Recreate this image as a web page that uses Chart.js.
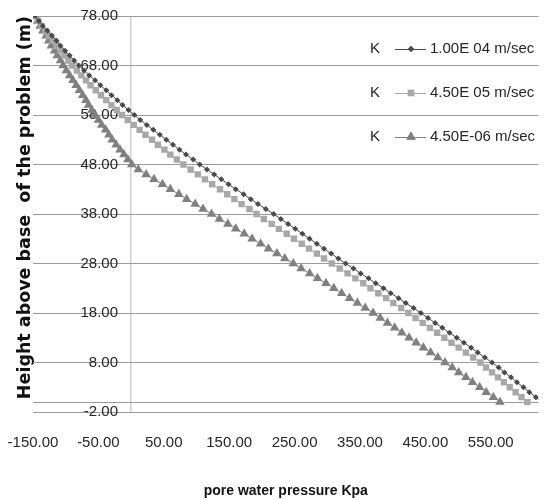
<!DOCTYPE html>
<html>
<head>
<meta charset="utf-8">
<script src="https://cdn.jsdelivr.net/npm/chart.js@4.4.1/dist/chart.umd.min.js"></script>
<style>
  html, body { margin: 0; padding: 0; background: #ffffff; }
  #wrap { width: 544px; height: 500px; }
</style>
</head>
<body>
<div id="wrap"><canvas id="c" width="544" height="500"></canvas></div>
<script>
// ---- data ----
const heights = [78,77,76,75,74,73,72,71,70,69,68,67,66,65,64,63,62,61,60,59,58,57,56,55,54,53,52,51,50,49,48,47,46,45,44,43,42,41,40,39,38,37,36,35,34,33,32,31,30,29,28,27,26,25,24,23,22,21,20,19,18,17,16,15,14,13,12,11,10,9,8,7,6,5,4,3,2,1,0];

const pressureK1 = [-147,-141,-135,-128,-121,-114,-108,-101,-94,-87,
  -80,-72,-64,-55,-47,-38,-30,-21,-13,-4,
  5,14,24,34,44,54,64,74,84,95,
  105,116,127,138,149,160,172,183,194,206,
  218,229,240,251,262,273,284,295,306,317,
  328,340,351,363,374,386,397,409,420,432,
  443,454,465,476,487,498,509,520,530,541,
  552,562,571,581,590,600,609,619,628];

const pressureK2 = [-147,-142,-137,-131,-126,-120,-114,-108,-102,-96,
  -90,-83,-76,-69,-62,-54,-46,-38,-30,-22,
  -14,-5,4,13,22,32,41,51,60,70,
  80,91,102,113,124,136,147,158,169,181,
  192,203,215,226,238,249,261,272,284,295,
  307,319,331,343,355,366,378,390,401,413,
  424,435,446,457,468,479,490,501,512,523,
  534,543,552,561,570,579,588,597,606];

const pressureK3 = [-147,-143,-139,-135,-130,-126,-122,-117,-113,-108,
  -104,-99,-94,-89,-84,-79,-74,-69,-65,-60,
  -55,-50,-45,-39,-34,-29,-23,-17,-11,-5,
  1,11,23,35,48,60,73,85,98,110,
  123,135,148,160,173,185,198,210,223,235,
  248,260,273,285,298,310,322,334,346,358,
  370,381,392,403,414,425,436,447,458,469,
  480,491,501,512,522,533,543,554,564];

const seriesLabels = ['1.00E 04 m/sec', '4.50E 05 m/sec', '4.50E-06 m/sec'];
const legendPrefix = 'K';
const xTickValues = [-150, -50, 0, 50, 150, 250, 350, 450, 550];
const yTickValues = [-2, 0, 8, 18, 28, 38, 48, 58, 68, 78];
const xTitle = 'pore water pressure Kpa';
const yTitle = 'Height above base  of the problem (m)';

// ---- styles ----
const FONT = "'Liberation Sans', Arial, sans-serif";
const colors = ['#4a4a4a', '#a8a8a8', '#808080'];
const styles = ['rectRot', 'rect', 'triangle'];
const radii = [3, 4.5, 5.5];
const textColor = '#262626';

function pts(p) { return p.map((v, i) => ({ x: v, y: heights[i] })); }
const seriesData = [pressureK1, pressureK2, pressureK3];

const datasets = seriesData.map((p, i) => ({
  label: seriesLabels[i],
  data: pts(p),
  showLine: true,
  borderColor: colors[i],
  backgroundColor: colors[i],
  borderWidth: 1,
  pointStyle: styles[i],
  pointRadius: radii[i],
  pointBorderWidth: 0,
  pointBackgroundColor: colors[i],
  yAxisID: 'y',
  order: i
}));

const legendPlugin = {
  id: 'excelLegend',
  afterDraw(chart) {
    const ctx = chart.ctx;
    const rows = [49, 93, 137];
    ctx.save();
    ctx.font = "15px " + FONT;
    ctx.textBaseline = 'middle';
    rows.forEach((y, i) => {
      ctx.fillStyle = textColor;
      ctx.textAlign = 'left';
      ctx.fillText(legendPrefix, 370, y);
      ctx.strokeStyle = colors[i];
      ctx.lineWidth = 1;
      ctx.beginPath();
      ctx.moveTo(395, y + 0.5);
      ctx.lineTo(426, y + 0.5);
      ctx.stroke();
      ctx.fillStyle = colors[i];
      Chart.helpers.drawPoint(ctx, { pointStyle: styles[i], radius: radii[i], borderWidth: 0, rotation: 0 }, 411, y);
      ctx.fill();
      ctx.fillStyle = textColor;
      ctx.fillText(seriesLabels[i], 430, y);
    });
    ctx.restore();
  }
};

new Chart(document.getElementById('c'), {
  type: 'scatter',
  data: { datasets },
  plugins: [legendPlugin],
  options: {
    responsive: false,
    animation: false,
    devicePixelRatio: 1,
    layout: { padding: { top: 16, left: 0, right: 0, bottom: 0 } },
    plugins: { legend: { display: false }, tooltip: { enabled: false } },
    scales: {
      x: {
        type: 'linear',
        position: 'bottom',
        min: -150,
        max: 623,
        afterBuildTicks: s => { s.ticks = xTickValues.map(v => ({ value: v })); },
        afterFit: s => { s.height = 88; s.paddingLeft = 0; s.paddingRight = 0; },
        ticks: {
          autoSkip: false, maxRotation: 0, padding: 22,
          color: textColor,
          font: { family: FONT, size: 15 },
          callback: v => (v === 0 ? '' : Number(v).toFixed(2))
        },
        grid: {
          drawTicks: false,
          lineWidth: 1.5,
          color: c => (c.tick && c.tick.value === 0 ? '#d0d0d0' : 'rgba(0,0,0,0)')
        },
        border: { display: false },
        title: {
          display: true, text: xTitle, color: '#111',
          font: { family: FONT, size: 14, weight: 'bold' },
          padding: { top: 0, bottom: 0 }
        }
      },
      yTitleAxis: {
        type: 'linear',
        position: 'left',
        min: -2, max: 78,
        afterFit: s => { s.width = 33; s.paddingTop = 0; s.paddingBottom = 0; },
        ticks: { display: false },
        grid: { display: false, drawTicks: false },
        border: { display: false },
        title: {
          display: true, text: yTitle, color: '#111',
          align: 'end',
          font: { family: "'DejaVu Sans', sans-serif", size: 17.5, weight: 'bold' },
          padding: { top: 14.5, bottom: 0 }
        }
      },
      y: {
        type: 'linear',
        position: { x: -20 },
        min: -2, max: 78,
        afterBuildTicks: s => { s.ticks = yTickValues.map(v => ({ value: v })); },
        afterFit: s => { s.paddingTop = 0; s.paddingBottom = 0; },
        ticks: {
          padding: 0,
          color: textColor,
          font: { family: FONT, size: 15 },
          callback: v => (v === 0 ? '' : Number(v).toFixed(2))
        },
        grid: { color: '#9a9a9a', lineWidth: 1, drawTicks: false },
        border: { display: false }
      }
    }
  }
});
</script>
</body>
</html>
